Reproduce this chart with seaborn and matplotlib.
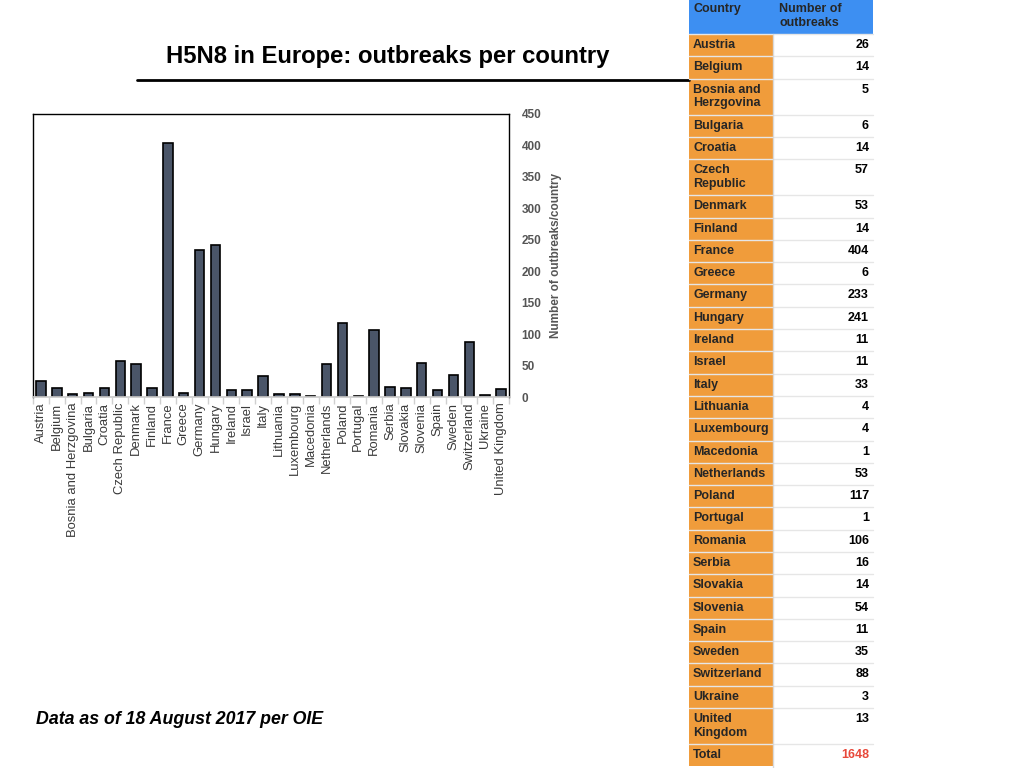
import numpy as np
import pandas as pd
import matplotlib
matplotlib.use("Agg")
import matplotlib.pyplot as plt
import seaborn as sns
from matplotlib.patches import Rectangle
from matplotlib.ticker import FixedLocator

countries = ["Austria", "Belgium", "Bosnia and Herzgovina", "Bulgaria", "Croatia",
             "Czech Republic", "Denmark", "Finland", "France", "Greece", "Germany",
             "Hungary", "Ireland", "Israel", "Italy", "Lithuania", "Luxembourg",
             "Macedonia", "Netherlands", "Poland", "Portugal", "Romania", "Serbia",
             "Slovakia", "Slovenia", "Spain", "Sweden", "Switzerland", "Ukraine",
             "United Kingdom"]
outbreaks = [26, 14, 5, 6, 14, 57, 53, 14, 404, 6, 233, 241, 11, 11, 33, 4, 4, 1,
             53, 117, 1, 106, 16, 14, 54, 11, 35, 88, 3, 13]
table_names = ["Austria", "Belgium", "Bosnia and\nHerzgovina", "Bulgaria", "Croatia",
               "Czech\nRepublic", "Denmark", "Finland", "France", "Greece", "Germany",
               "Hungary", "Ireland", "Israel", "Italy", "Lithuania", "Luxembourg",
               "Macedonia", "Netherlands", "Poland", "Portugal", "Romania", "Serbia",
               "Slovakia", "Slovenia", "Spain", "Sweden", "Switzerland", "Ukraine",
               "United\nKingdom"]
total = 1648

sns.set_theme(style="white")
plt.rcParams['font.family'] = ['Liberation Sans', 'DejaVu Sans']

df = pd.DataFrame({"country": countries, "n": outbreaks})

fig = plt.figure(figsize=(10.24, 7.68), dpi=100)

# bar chart
ax = fig.add_axes([33 / 1024, 1 - 397 / 768, 476 / 1024, 283 / 768])
sns.barplot(data=df, x="country", y="n", color="#4a5568", saturation=1,
            edgecolor="black", linewidth=1.2, width=0.6, ax=ax)
ax.set_ylim(0, 450)
ax.set_yticks(range(0, 451, 50))
ax.yaxis.tick_right()
ax.yaxis.set_label_position("right")
ax.set_ylabel("Number of outbreaks/country", fontsize=8.5, fontweight="bold",
              color="#555555", labelpad=6)
ax.set_xlabel("")
ax.tick_params(axis="y", length=0, labelsize=8.5, labelcolor="#555555", pad=9)
for t in ax.get_yticklabels():
    t.set_fontweight("bold")
ax.tick_params(axis="x", which="major", labelsize=9.4, labelcolor="#3a3a3a",
               rotation=90, length=0, pad=4)
ax.set_xlim(-0.5, len(countries) - 0.5)
ax.xaxis.set_minor_locator(FixedLocator(np.arange(-0.5, len(countries), 1.0)))
ax.tick_params(axis="x", which="minor", bottom=True, length=5, color="#d0d0d0", width=1)
for s in ["left", "top", "right"]:
    ax.spines[s].set_color("black")
    ax.spines[s].set_linewidth(1)
ax.spines["bottom"].set_color("#cccccc")

# overlay for title, rule, footnote and table
ov = fig.add_axes([0, 0, 1, 1], facecolor="none")
ov.set_xlim(0, 1024)
ov.set_ylim(768, 0)
ov.axis("off")

ov.text(388, 56, "H5N8 in Europe: outbreaks per country", ha="center", va="center",
        fontsize=17.2, fontweight="bold", color="black")
ov.plot([137, 689], [80, 80], color="black", lw=2)
ov.text(36, 720, "Data as of 18 August 2017 per OIE", ha="left", va="center",
        fontsize=12.8, fontweight="bold", fontstyle="italic", color="black")

# table
x0, x1, x2 = 689, 773, 873
blue = "#3d8ff2"
orange = "#f09c3b"
head_h = 34
ov.add_patch(Rectangle((x0, 0), x2 - x0, head_h, color=blue, lw=0))
ov.text(x0 + 4, 3, "Country", ha="left", va="top", fontsize=9, fontweight="bold")
ov.text(x1 + 6, 3, "Number of\noutbreaks", ha="left", va="top", fontsize=9,
        fontweight="bold", linespacing=1.2)

y = head_h
rows = list(zip(table_names, outbreaks)) + [("Total", total)]
for name, val in rows:
    h = 36 if "\n" in name else 22.3
    ov.add_patch(Rectangle((x0, y), x1 - x0, h, facecolor=orange, edgecolor="none"))
    ov.add_patch(Rectangle((x1, y), x2 - x1, h, facecolor="white", edgecolor="none"))
    ov.plot([x0, x2], [y, y], color="#e6e6e6", lw=1)
    ov.text(x0 + 4, y + 5, name, ha="left", va="top", fontsize=9,
            fontweight="bold", linespacing=1.2)
    col = "#e8483a" if name == "Total" else "black"
    ov.text(x2 - 4, y + 5, str(val), ha="right", va="top", fontsize=9,
            fontweight="bold", color=col)
    y += h
ov.plot([x1, x1], [head_h, 768], color="#d9d9d9", lw=1)

fig.savefig("out.png", dpi=100)
